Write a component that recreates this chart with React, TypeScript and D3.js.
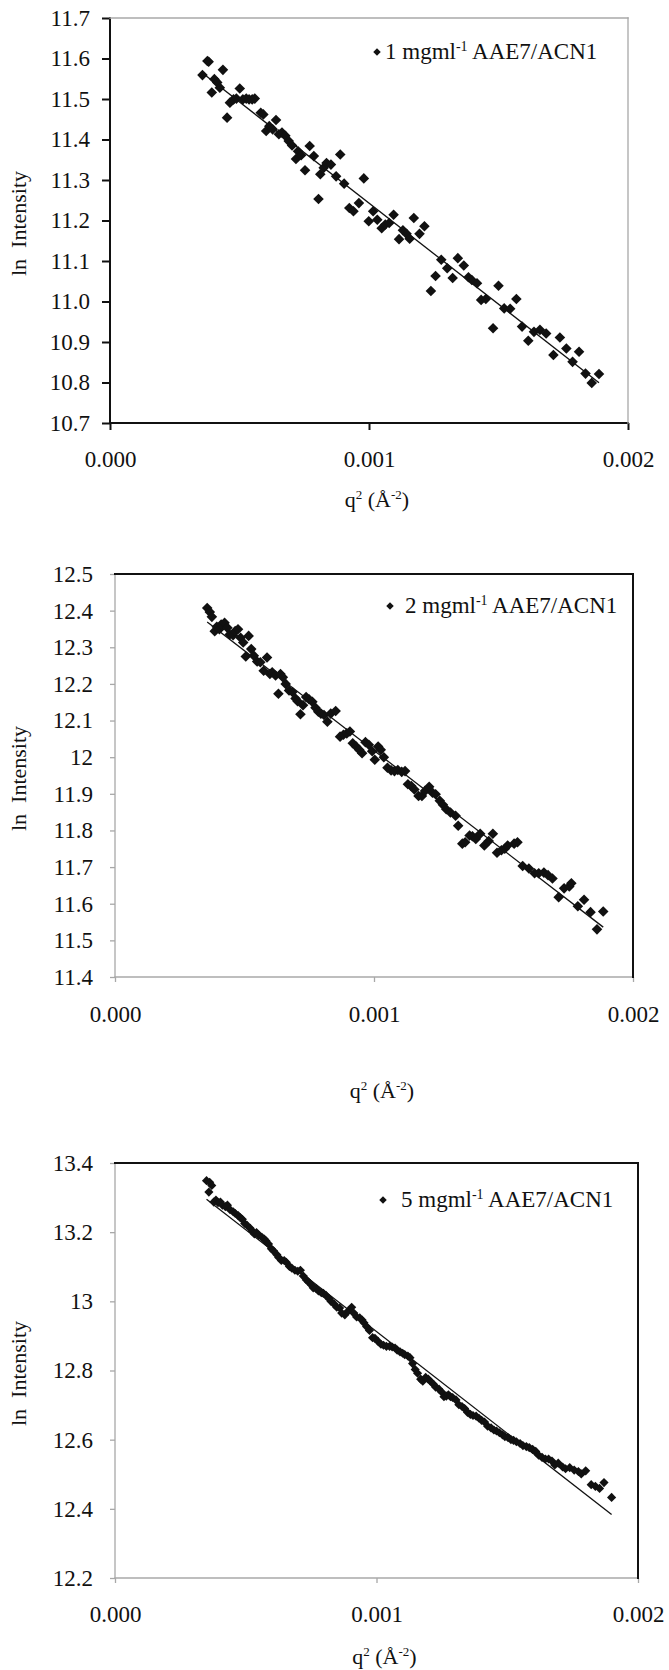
import React, { useEffect, useRef } from "react";
import * as d3 from "d3";

// [q^2 (Å^-2), ln Intensity]
const series1: [number, number][] = [
  [0.000357, 11.559], [0.000376, 11.594], [0.000381, 11.592], [0.000393, 11.516], [0.000403, 11.549],
  [0.000414, 11.541], [0.000424, 11.528], [0.000436, 11.572], [0.000452, 11.454], [0.000463, 11.491],
  [0.000477, 11.499], [0.000488, 11.501], [0.000501, 11.526], [0.000513, 11.499], [0.000526, 11.501],
  [0.000537, 11.499], [0.000549, 11.499], [0.000559, 11.501], [0.000582, 11.466], [0.000592, 11.462],
  [0.000603, 11.421], [0.000615, 11.433], [0.000628, 11.425], [0.000641, 11.448], [0.000652, 11.413],
  [0.000664, 11.417], [0.000677, 11.409], [0.00069, 11.396], [0.000703, 11.385], [0.000718, 11.352],
  [0.000726, 11.371], [0.000738, 11.361], [0.000753, 11.324], [0.000771, 11.384], [0.000787, 11.359],
  [0.000805, 11.253], [0.000812, 11.314], [0.000825, 11.33], [0.000836, 11.342], [0.000853, 11.338],
  [0.000873, 11.309], [0.000889, 11.363], [0.000904, 11.291], [0.000924, 11.231], [0.00094, 11.223],
  [0.000961, 11.243], [0.00098, 11.304], [0.000999, 11.198], [0.001016, 11.223], [0.001032, 11.202],
  [0.001049, 11.181], [0.001063, 11.19], [0.001078, 11.194], [0.001095, 11.214], [0.001116, 11.154],
  [0.001131, 11.176], [0.001145, 11.167], [0.001157, 11.155], [0.001173, 11.206], [0.001195, 11.167],
  [0.001214, 11.186], [0.001239, 11.026], [0.001257, 11.063], [0.001279, 11.103], [0.001302, 11.082],
  [0.001323, 11.058], [0.001343, 11.107], [0.001366, 11.089], [0.001384, 11.06], [0.001397, 11.053],
  [0.001417, 11.045], [0.001433, 11.004], [0.001451, 11.006], [0.001479, 10.934], [0.0015, 11.039],
  [0.001522, 10.983], [0.001545, 10.982], [0.001569, 11.006], [0.001591, 10.938], [0.001615, 10.903],
  [0.001637, 10.925], [0.00166, 10.93], [0.001684, 10.921], [0.001712, 10.868], [0.001737, 10.911],
  [0.001762, 10.884], [0.001786, 10.851], [0.001811, 10.876], [0.001836, 10.822], [0.00186, 10.799],
  [0.001888, 10.821],
];

const series2: [number, number][] = [
  [0.000356, 12.407], [0.000366, 12.396], [0.000374, 12.383], [0.000385, 12.344], [0.000393, 12.356],
  [0.000403, 12.349], [0.00041, 12.362], [0.000423, 12.367], [0.000434, 12.353], [0.000443, 12.335],
  [0.000456, 12.333], [0.000464, 12.344], [0.000475, 12.349], [0.000485, 12.326], [0.000495, 12.313],
  [0.000505, 12.275], [0.000516, 12.331], [0.000526, 12.295], [0.000536, 12.277], [0.000549, 12.261],
  [0.000561, 12.259], [0.000574, 12.236], [0.000587, 12.272], [0.000598, 12.227], [0.000607, 12.232],
  [0.00062, 12.223], [0.000631, 12.173], [0.000639, 12.227], [0.000648, 12.218], [0.000659, 12.2],
  [0.000672, 12.182], [0.000685, 12.178], [0.000697, 12.16], [0.000705, 12.153], [0.000716, 12.117],
  [0.000726, 12.142], [0.000738, 12.164], [0.000749, 12.158], [0.000762, 12.151], [0.000774, 12.135],
  [0.000785, 12.124], [0.000795, 12.119], [0.000807, 12.115], [0.00082, 12.097], [0.000833, 12.119],
  [0.000852, 12.126], [0.000869, 12.056], [0.000882, 12.061], [0.000895, 12.065], [0.000907, 12.07],
  [0.000918, 12.038], [0.000931, 12.029], [0.000943, 12.02], [0.000954, 12.011], [0.000967, 12.041],
  [0.00098, 12.034], [0.000993, 12.016], [0.001003, 11.993], [0.001016, 12.029], [0.001026, 12.02],
  [0.001038, 12.0], [0.001052, 11.971], [0.001066, 11.964], [0.001079, 11.962], [0.001092, 11.965],
  [0.001107, 11.96], [0.00112, 11.962], [0.001131, 11.926], [0.001144, 11.921], [0.001156, 11.912],
  [0.001172, 11.894], [0.001185, 11.894], [0.001197, 11.908], [0.001213, 11.919], [0.001226, 11.903],
  [0.001238, 11.899], [0.001254, 11.881], [0.001266, 11.87], [0.001279, 11.858], [0.001295, 11.849],
  [0.001315, 11.84], [0.001325, 11.813], [0.001341, 11.764], [0.001352, 11.768], [0.001369, 11.786],
  [0.00138, 11.784], [0.001393, 11.777], [0.00141, 11.791], [0.001426, 11.759], [0.001443, 11.771],
  [0.001459, 11.791], [0.001475, 11.739], [0.001492, 11.746], [0.001505, 11.75], [0.001516, 11.759],
  [0.001541, 11.764], [0.001554, 11.768], [0.001574, 11.703], [0.001598, 11.696], [0.00162, 11.683],
  [0.001636, 11.683], [0.001656, 11.685], [0.001672, 11.678], [0.001689, 11.669], [0.001713, 11.618],
  [0.001734, 11.642], [0.001754, 11.647], [0.001762, 11.656], [0.001787, 11.593], [0.001811, 11.611],
  [0.001836, 11.577], [0.001861, 11.53], [0.001885, 11.579],
];

const series3: [number, number][] = [
  [0.00035, 13.349], [0.000362, 13.344], [0.00037, 13.335], [0.000359, 13.316], [0.000378, 13.287],
  [0.000386, 13.293], [0.000394, 13.285], [0.000403, 13.287], [0.000411, 13.278], [0.000422, 13.274],
  [0.00043, 13.278], [0.00044, 13.265], [0.000452, 13.259], [0.00046, 13.254], [0.000471, 13.248],
  [0.000479, 13.242], [0.000487, 13.237], [0.000496, 13.225], [0.000505, 13.22], [0.000517, 13.211],
  [0.000525, 13.203], [0.000533, 13.195], [0.000541, 13.199], [0.000549, 13.192], [0.000561, 13.186],
  [0.000571, 13.18], [0.000577, 13.175], [0.000587, 13.166], [0.000598, 13.152], [0.000606, 13.146],
  [0.000619, 13.135], [0.000626, 13.127], [0.000636, 13.118], [0.000647, 13.118], [0.000655, 13.113],
  [0.000667, 13.101], [0.000676, 13.096], [0.000688, 13.09], [0.000699, 13.087], [0.000709, 13.09],
  [0.00072, 13.073], [0.000732, 13.062], [0.00074, 13.056], [0.00075, 13.048], [0.000758, 13.039],
  [0.000769, 13.037], [0.000778, 13.03], [0.000789, 13.025], [0.000797, 13.023], [0.000807, 13.017],
  [0.000818, 13.008], [0.000826, 13.0], [0.000838, 12.992], [0.000848, 12.983], [0.000859, 12.981],
  [0.000867, 12.966], [0.000879, 12.961], [0.000892, 12.972], [0.000905, 12.983], [0.000913, 12.966],
  [0.000924, 12.955], [0.000936, 12.952], [0.000945, 12.946], [0.000952, 12.938], [0.000962, 12.927],
  [0.000973, 12.916], [0.000985, 12.895], [0.000994, 12.893], [0.001006, 12.884], [0.001017, 12.876],
  [0.001027, 12.873], [0.001038, 12.87], [0.00105, 12.87], [0.00106, 12.868], [0.001071, 12.865],
  [0.001079, 12.859], [0.00109, 12.854], [0.0011, 12.85], [0.001108, 12.846], [0.00112, 12.842],
  [0.001128, 12.837], [0.001138, 12.82], [0.001148, 12.803], [0.001157, 12.792], [0.001169, 12.775],
  [0.001177, 12.769], [0.001188, 12.78], [0.001198, 12.775], [0.001206, 12.769], [0.001218, 12.76],
  [0.001226, 12.752], [0.001239, 12.746], [0.00125, 12.737], [0.001258, 12.724], [0.001267, 12.726],
  [0.001275, 12.73], [0.001283, 12.724], [0.001291, 12.722], [0.001304, 12.715], [0.001315, 12.701],
  [0.001327, 12.696], [0.001337, 12.69], [0.001348, 12.679], [0.001359, 12.673], [0.001369, 12.67],
  [0.001381, 12.668], [0.001392, 12.662], [0.001402, 12.656], [0.001413, 12.651], [0.001425, 12.639],
  [0.001438, 12.634], [0.001449, 12.628], [0.001459, 12.625], [0.00147, 12.62], [0.001482, 12.614],
  [0.001491, 12.609], [0.001503, 12.606], [0.001514, 12.6], [0.001524, 12.598], [0.001535, 12.594],
  [0.001549, 12.589], [0.00156, 12.583], [0.001573, 12.58], [0.001584, 12.577], [0.001597, 12.572],
  [0.001609, 12.566], [0.00162, 12.555], [0.001633, 12.549], [0.001646, 12.544], [0.001658, 12.544],
  [0.001671, 12.538], [0.001682, 12.527], [0.001695, 12.532], [0.001712, 12.521], [0.001723, 12.516],
  [0.001739, 12.519], [0.001756, 12.512], [0.001772, 12.508], [0.001783, 12.501], [0.0018, 12.51],
  [0.001821, 12.47], [0.001837, 12.465], [0.001853, 12.459], [0.00187, 12.476], [0.001899, 12.433],
];

const yTicks1 = [10.7, 10.8, 10.9, 11.0, 11.1, 11.2, 11.3, 11.4, 11.5, 11.6, 11.7];
const yTicks2 = [11.4, 11.5, 11.6, 11.7, 11.8, 11.9, 12, 12.1, 12.2, 12.3, 12.4, 12.5];
const yTicks3 = [12.2, 12.4, 12.6, 12.8, 13, 13.2, 13.4];
const xTicks = [0, 0.001, 0.002];
const concentrations = ["1", "2", "5"];

const FONT = '"Liberation Serif", "Times New Roman", Times, "DejaVu Serif", serif';

// Excel-style linear trendline (least squares)
const linearFit = (pts: [number, number][]) => {
  const mx = d3.mean(pts, (d) => d[0])!;
  const my = d3.mean(pts, (d) => d[1])!;
  const sxy = d3.sum(pts, (d) => (d[0] - mx) * (d[1] - my));
  const sxx = d3.sum(pts, (d) => (d[0] - mx) ** 2);
  const b = sxy / sxx;
  const a = my - b * mx;
  const [x0, x1] = d3.extent(pts, (d) => d[0]) as [number, number];
  return [
    [x0, a + b * x0],
    [x1, a + b * x1],
  ] as [number, number][];
};

const panels = [
  {
    data: series1, yDomain: [10.7, 11.7], yTicks: yTicks1, yFmt: d3.format(".1f"),
    left: 110, right: 628, top: 18, bottom: 423,
    darkFrame: "lb", yTick: 8, yPad: 12, xTick: 7, xPad: 21, titleY: 507,
    legendX: 377, legendY: 52, legendGap: 8, marker: 56, conc: concentrations[0],
  },
  {
    data: series2, yDomain: [11.4, 12.5], yTicks: yTicks2, yFmt: (d: number) => String(d),
    left: 115, right: 633, top: 574, bottom: 977,
    darkFrame: "tr", yTick: 5, yPad: 17, xTick: 5, xPad: 24, titleY: 1098,
    legendX: 390, legendY: 606, legendGap: 15, marker: 56, conc: concentrations[1],
  },
  {
    data: series3, yDomain: [12.2, 13.4], yTicks: yTicks3, yFmt: (d: number) => String(d),
    left: 115, right: 638, top: 1163, bottom: 1578,
    darkFrame: "tr", yTick: 5, yPad: 17, xTick: 5, xPad: 23, titleY: 1664,
    legendX: 383, legendY: 1200, legendGap: 18, marker: 42, conc: concentrations[2],
  },
];

const App = () => {
  const svgRef = useRef<SVGSVGElement>(null);

  useEffect(() => {
    const svg = d3.select(svgRef.current);
    svg.selectAll("*").remove();

    panels.forEach((p) => {
      const g = svg.append("g");
      const x = d3.scaleLinear().domain([0, 0.002]).range([p.left, p.right]);
      const y = d3.scaleLinear().domain(p.yDomain).range([p.bottom, p.top]);
      const dark = { stroke: "#111", width: 2 };
      const light = { stroke: "#a8a8a8", width: 1.3 };
      const leftBottom = p.darkFrame === "lb" ? dark : light;
      const topRight = p.darkFrame === "lb" ? light : dark;

      const styleText = (sel: any, size = 23) =>
        sel.style("font-family", FONT).style("font-size", `${size}px`).attr("fill", "#111");

      // y axis ticks + labels
      g.append("g")
        .attr("transform", `translate(${p.left},0)`)
        .call(
          d3.axisLeft(y).tickValues(p.yTicks).tickFormat(p.yFmt as any)
            .tickSize(p.yTick).tickPadding(p.yPad).tickSizeOuter(0)
        )
        .call((a) => a.select(".domain").remove())
        .call((a) =>
          a.selectAll("line").attr("stroke", leftBottom.stroke).attr("stroke-width", leftBottom.width)
        )
        .call((a) => styleText(a.selectAll("text")));

      // x axis ticks + labels
      g.append("g")
        .attr("transform", `translate(0,${p.bottom})`)
        .call(
          d3.axisBottom(x).tickValues(xTicks).tickFormat(d3.format(".3f") as any)
            .tickSize(p.xTick).tickPadding(p.xPad).tickSizeOuter(0)
        )
        .call((a) => a.select(".domain").remove())
        .call((a) =>
          a.selectAll("line").attr("stroke", leftBottom.stroke).attr("stroke-width", leftBottom.width)
        )
        .call((a) => styleText(a.selectAll("text")));

      // frame
      const edges: [number, number, number, number, typeof dark][] = [
        [p.left, p.top, p.left, p.bottom, leftBottom],
        [p.left, p.bottom, p.right, p.bottom, leftBottom],
        [p.left, p.top, p.right, p.top, topRight],
        [p.right, p.top, p.right, p.bottom, topRight],
      ];
      g.selectAll(".edge")
        .data(edges)
        .join("line")
        .attr("x1", (d) => d[0]).attr("y1", (d) => d[1])
        .attr("x2", (d) => d[2]).attr("y2", (d) => d[3])
        .attr("stroke", (d) => d[4].stroke)
        .attr("stroke-width", (d) => d[4].width)
        .attr("stroke-linecap", "square");

      // trendline
      const line = d3.line<[number, number]>().x((d) => x(d[0])).y((d) => y(d[1]));
      g.append("path")
        .attr("d", line(linearFit(p.data)))
        .attr("fill", "none")
        .attr("stroke", "#111")
        .attr("stroke-width", 1.3);

      // diamonds
      const diamond = d3.symbol().type(d3.symbolSquare).size(p.marker);
      g.append("g")
        .selectAll("path")
        .data(p.data)
        .join("path")
        .attr("d", diamond)
        .attr("transform", (d) => `translate(${x(d[0])},${y(d[1])}) rotate(45)`)
        .attr("fill", "#111");

      // legend
      g.append("path")
        .attr("d", d3.symbol().type(d3.symbolSquare).size(28)())
        .attr("transform", `translate(${p.legendX},${p.legendY}) rotate(45)`)
        .attr("fill", "#111");
      const lt = styleText(
        g.append("text").attr("x", p.legendX + p.legendGap).attr("y", p.legendY + 7)
      );
      lt.append("tspan").text(`${p.conc} mgml`);
      lt.append("tspan").attr("dy", -8).style("font-size", "14px").text("-1");
      lt.append("tspan").attr("dy", 8).text(" AAE7/ACN1");

      // y title
      styleText(
        g.append("text")
          .attr("transform", `translate(26,${(p.top + p.bottom) / 2 + 3}) rotate(-90)`)
          .attr("text-anchor", "middle"),
        22
      )
        .style("white-space", "pre")
        .text("ln  Intensity");

      // x title
      const xt = styleText(
        g.append("text")
          .attr("x", (p.left + p.right) / 2 + 8)
          .attr("y", p.titleY)
          .attr("text-anchor", "middle"),
        22
      );
      xt.append("tspan").text("q");
      xt.append("tspan").attr("dy", -8).style("font-size", "13px").text("2");
      xt.append("tspan").attr("dy", 8).text(" (Å");
      xt.append("tspan").attr("dy", -8).style("font-size", "13px").text("-2");
      xt.append("tspan").attr("dy", 8).text(")");
    });
  }, []);

  return (
    <svg
      ref={svgRef}
      width={669}
      height={1670}
      style={{ position: "absolute", left: 0, top: 0, background: "#fff" }}
    ></svg>
  );
};

export default App;
